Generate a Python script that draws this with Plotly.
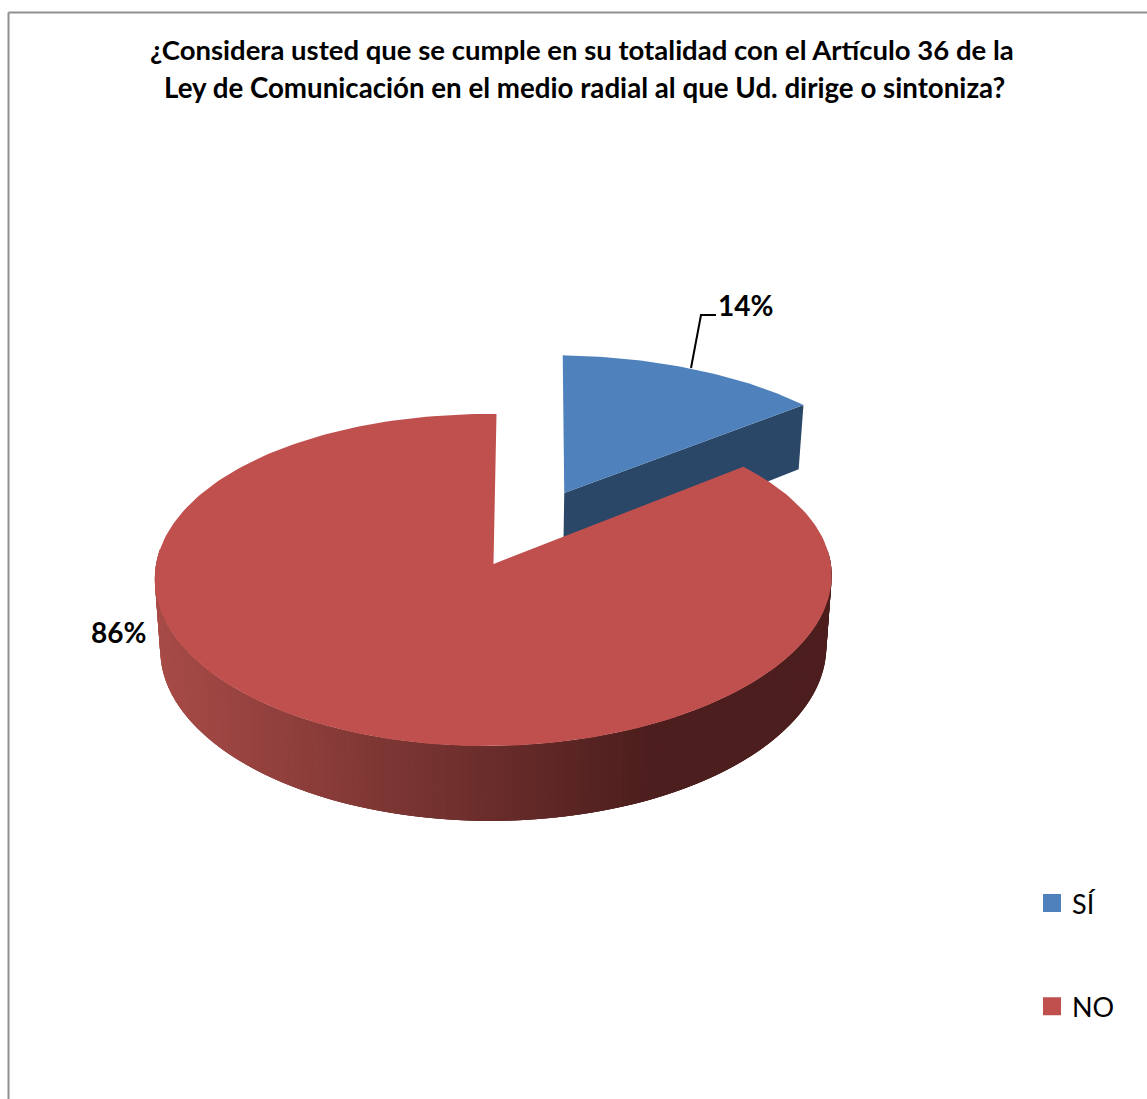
import math
import plotly.graph_objects as go

categories = ["SÍ", "NO"]
values = [14, 86]
percent_labels = ["14%", "86%"]
colors = ["#4f81bd", "#c0504d"]
title_lines = ["¿Considera usted que se cumple en su totalidad con el Artículo 36 de la",
               "Ley de Comunicación en el medio radial al que Ud. dirige o sintoniza?"]

W, H = 1147, 1099
CX, CY = 493.5, 564
A, B, K = 337.4, 164.5, 0.0964
A2, B2, DY = 332.0, 168.0, 71.0
SHEAR_V, SHEAR_UV, TILT = 3.0, 6.0, 3.0
EXPLODE = 0.5
FONT = "Lato"

def top(u, v):
    w = 1 + K * v
    return (CX + A * u / w + SHEAR_V * v + SHEAR_UV * u * v,
            CY - B * v / w + TILT * u * v)

def bottom(u, v):
    w = 1 + K * v
    return (CX + A2 * u / w + SHEAR_V * v + SHEAR_UV * u * v,
            CY + DY - B2 * v / w)

def uv(deg, ox=0.0, oy=0.0):
    r = math.radians(deg)
    return ox + math.sin(r), oy + math.cos(r)

def mix(c1, c2, t):
    t = max(0, min(1, t))
    return "rgb(%d,%d,%d)" % tuple(round(a + (b - a) * t) for a, b in zip(c1, c2))

fig = go.Figure()

def poly(xs, ys, color):
    fig.add_trace(go.Scatter(x=xs, y=ys, mode="lines", fill="toself", fillcolor=color,
                             line=dict(width=0), showlegend=False, hoverinfo="skip"))

total = sum(values)
split = 360 * values[0] / total
mid = math.radians(split / 2)
ox, oy = EXPLODE * math.sin(mid), EXPLODE * math.cos(mid)

# exploded slice: cut wall, then top face
p0 = (ox, oy)
p1 = uv(split, ox, oy)
t0, t1, b1, b0 = top(*p0), top(*p1), bottom(*p1), bottom(*p0)
poly([t0[0], t1[0], b1[0], b0[0]], [t0[1], t1[1], b1[1], b0[1]], "#2a4767")
pts = [top(*p0)] + [top(*uv(split * i / 60, ox, oy)) for i in range(61)]
poly([p[0] for p in pts], [p[1] for p in pts], colors[0])

# main slice: shaded outer wall (each strip overlaps the next), then top face
LIGHT, DARK = (168, 75, 71), (76, 30, 29)
n = 160
step = 190 / n
for i in range(n):
    a0 = 85 + step * i
    a1 = min(275, a0 + step * 3)
    q0, qm, q1 = uv(a0), uv((a0 + a1) / 2), uv(a1)
    c = [top(*q0), top(*qm), top(*q1), bottom(*q1), bottom(*qm), bottom(*q0)]
    xm = top(*uv(a0 + step / 2))[0]
    poly([p[0] for p in c], [p[1] for p in c], mix(LIGHT, DARK, (xm - 155) / (650 - 155)))
pts = [top(0, 0)] + [top(*uv(split + (360 - split) * i / 240)) for i in range(241)]
poly([p[0] for p in pts], [p[1] for p in pts], colors[1])

# leader line of the small slice
fig.add_trace(go.Scatter(x=[691, 701, 716], y=[368, 315, 315], mode="lines",
                         line=dict(color="#000000", width=2), showlegend=False, hoverinfo="skip"))

# legend entries
for name, col in zip(categories, colors):
    fig.add_trace(go.Scatter(x=[None], y=[None], mode="markers", name=name, legendgroup=name,
                             marker=dict(symbol="square", size=16, color=col,
                                         line=dict(color=col, width=2))))

fig.add_annotation(x=745, y=305, text=percent_labels[0], showarrow=False,
                   font=dict(family=FONT, size=28, color="#000000", weight="bold"))
fig.add_annotation(x=118, y=632, text=percent_labels[1], showarrow=False,
                   font=dict(family=FONT, size=28, color="#000000", weight="bold"))
fig.add_annotation(x=582, y=49, text=title_lines[0], showarrow=False,
                   font=dict(family=FONT, size=27.5, color="#000000", weight="bold"))
fig.add_annotation(x=584, y=87, text=title_lines[1], showarrow=False,
                   font=dict(family=FONT, size=27.7, color="#000000", weight="bold"))

# chart frame (left and top edges are inside the page)
fig.add_shape(type="line", x0=8.5, x1=8.5, y0=12.5, y1=H, line=dict(color="#8f8f8f", width=2))
fig.add_shape(type="line", x0=8.5, x1=W, y0=12.5, y1=12.5, line=dict(color="#8f8f8f", width=2))

fig.update_xaxes(range=[0, W], visible=False, fixedrange=True)
fig.update_yaxes(range=[H, 0], visible=False, fixedrange=True)
fig.update_layout(
    width=W, height=H, margin=dict(l=0, r=0, t=0, b=0),
    paper_bgcolor="#ffffff", plot_bgcolor="#ffffff",
    legend=dict(x=1032 / W, y=1 - 879 / H, xanchor="left", yanchor="top",
                traceorder="grouped", tracegroupgap=65, itemwidth=30,
                font=dict(family=FONT, size=27, color="#000000"), bgcolor="rgba(0,0,0,0)"),
)
fig.write_html("out.html", config={"displayModeBar": False},
               post_script="document.body.style.margin='0';")
